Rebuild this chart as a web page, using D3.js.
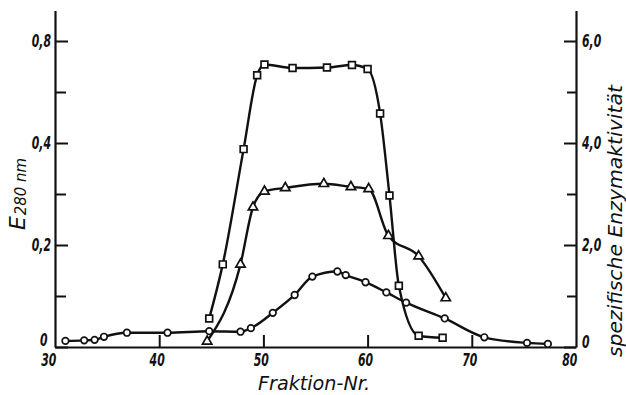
<!DOCTYPE html>
<html>
<head>
<meta charset="utf-8">
<script src="https://cdn.jsdelivr.net/npm/d3@7"></script>
<style>
  body { margin: 0; background: #fff; }
  text { font-family: "DejaVu Sans", sans-serif; font-style: italic; fill: #111; }
</style>
</head>
<body>
<script>

// circles
let circleFrac = [31, 32.8, 33.8, 34.7, 36.9, 40.8, 44.8, 47.8, 48.8, 50.9, 53, 54.7, 57.1, 57.9, 59.8, 61.8, 63.7, 67.4, 71.2, 75.3, 77.3];
let circleVals = [0.12, 0.13, 0.14, 0.2, 0.28, 0.28, 0.31, 0.3, 0.37, 0.67, 1.02, 1.38, 1.48, 1.41, 1.27, 1.07, 0.87, 0.56, 0.19, 0.08, 0.06];

// squares
let squareFrac = [44.8, 46.1, 48.1, 49.4, 50.1, 52.8, 56.1, 58.5, 60, 61.2, 62.1, 63, 64.9, 67.2];
let squareVals = [0.56, 1.62, 3.88, 5.33, 5.54, 5.47, 5.48, 5.53, 5.45, 4.58, 2.97, 1.2, 0.22, 0.18];

// triangles
let triFrac = [44.6, 47.8, 49, 50.1, 52.1, 55.8, 58.4, 60.1, 62, 64.9, 67.5];
let triVals = [0.11, 1.62, 2.74, 3.05, 3.12, 3.2, 3.14, 3.1, 2.18, 1.78, 0.96];

let xTicks = [30, 40, 50, 60, 70, 80];
let yMajor = [0, 2, 4, 6];
let yMinor = [1, 3, 5];
let leftLabels = ["0", "0,2", "0,4", "0,8"];
let rightLabels = ["0", "2,0", "4,0", "6,0"];

let width = 626, height = 395;

let svg = d3.select("body").append("svg")
    .attr("width", width)
    .attr("height", height);

svg.append("rect").attr("width", width).attr("height", height).attr("fill", "#fff");

let x = d3.scaleLinear().domain([30, 80]).range([55, 576]);
let y = d3.scaleLinear().domain([0, 6.6]).range([347, 10.4]);

let left = x(30), right = x(80), bottom = y(0);

// squeeze text horizontally, the original lettering is very narrow
function narrow(sel, k) {
    sel.each(function() {
        let w = this.getComputedTextLength();
        d3.select(this).attr("textLength", w * k).attr("lengthAdjust", "spacingAndGlyphs");
    });
}

// axes, ticks point inward
let gl = svg.append("g").attr("transform", `translate(${left},0)`);
gl.call(d3.axisLeft(y).tickValues(yMajor).tickSizeInner(-13).tickSizeOuter(0).tickPadding(4)
    .tickFormat((d, i) => leftLabels[i]));
gl.append("g").call(d3.axisLeft(y).tickValues(yMinor).tickSizeInner(-11).tickSizeOuter(0).tickFormat(""))
    .select(".domain").remove();

let gr = svg.append("g").attr("transform", `translate(${right},0)`);
gr.call(d3.axisRight(y).tickValues(yMajor).tickSizeInner(-12).tickSizeOuter(0).tickPadding(6)
    .tickFormat((d, i) => rightLabels[i]));
gr.append("g").call(d3.axisRight(y).tickValues(yMinor).tickSizeInner(-9).tickSizeOuter(0).tickFormat(""))
    .select(".domain").remove();

let gx = svg.append("g").attr("transform", `translate(0,${bottom})`);
gx.call(d3.axisBottom(x).tickValues(xTicks).tickSizeInner(-12).tickSizeOuter(0).tickPadding(7)
    .tickFormat(d3.format("d")));

svg.selectAll(".domain").attr("stroke", "#111").attr("stroke-width", 2.2);
svg.selectAll(".tick line").attr("stroke", "#111").attr("stroke-width", 2);
svg.selectAll(".tick text").attr("font-size", 17).attr("font-weight", "bold")
    .attr("font-family", null).style("font-style", "italic")
    .call(narrow, 0.64);

// end labels on x axis sit left of their tick
gx.selectAll(".tick text").filter(d => d == 30 || d == 80).attr("text-anchor", "end").attr("dx", "0.05em");
gx.selectAll(".tick text").filter(d => d != 30 && d != 80).attr("dx", "-0.15em");
gl.selectAll(".tick text").filter(d => d == 0).attr("dy", "-0.08em").attr("dx", "-0.2em");
gr.selectAll(".tick text").filter(d => d == 0).attr("dy", "0.05em");
gx.select(".tick line").remove();
gx.selectAll(".tick").filter(d => d == 80).select("line").remove();

// curves
let line = d3.line()
    .x(d => x(d[0]))
    .y(d => y(d[1]))
    .curve(d3.curveMonotoneX);

let series = [
    {pts: d3.zip(circleFrac, circleVals), mark: "circle"},
    {pts: d3.zip(triFrac, triVals), mark: "triangle"},
    {pts: d3.zip(squareFrac, squareVals), mark: "square"}
];

series.forEach((s) => {
    svg.append("path")
        .attr("d", line(s.pts))
        .attr("fill", "none")
        .attr("stroke", "#111")
        .attr("stroke-width", 2.4);
});

series.forEach((s) => {
    let g = svg.append("g");
    if (s.mark == "circle") {
        g.selectAll("circle").data(s.pts).join("circle")
            .attr("cx", d => x(d[0]))
            .attr("cy", d => y(d[1]))
            .attr("r", 3.3);
    } else {
        let sym = d3.symbol()
            .type(s.mark == "square" ? d3.symbolSquare : d3.symbolTriangle)
            .size(s.mark == "square" ? 46 : 38);
        g.selectAll("path").data(s.pts).join("path")
            .attr("transform", d => `translate(${x(d[0])},${y(d[1])})`)
            .attr("d", sym);
    }
    g.selectAll("*").attr("fill", "#fff").attr("stroke", "#111").attr("stroke-width", 1.7);
});

// axis titles
svg.append("text")
    .attr("x", 314).attr("y", 390)
    .attr("text-anchor", "middle")
    .attr("font-size", 20)
    .attr("textLength", 112)
    .attr("lengthAdjust", "spacingAndGlyphs")
    .text("Fraktion-Nr.");

let et = svg.append("text")
    .attr("transform", "translate(25,230) rotate(-90)")
    .attr("font-size", 22)
    .attr("textLength", 72)
    .attr("lengthAdjust", "spacingAndGlyphs");
et.append("tspan").text("E");
et.append("tspan").attr("font-size", 15).attr("dy", 1).attr("dx", 1).text("280 nm");

svg.append("text")
    .attr("transform", "translate(622,221) rotate(-90)")
    .attr("text-anchor", "middle")
    .attr("font-size", 19)
    .attr("textLength", 272)
    .attr("lengthAdjust", "spacingAndGlyphs")
    .text("spezifische Enzymaktivität");

</script>
</body>
</html>
